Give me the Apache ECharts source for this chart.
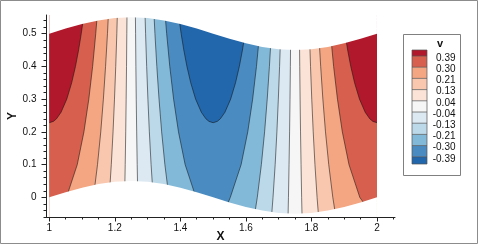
<!DOCTYPE html>
<html><head><meta charset="utf-8">
<script src="https://cdn.jsdelivr.net/npm/echarts@6/dist/echarts.min.js"></script>
<style>html,body{margin:0;padding:0;background:#fff}#c{width:479px;height:245px}</style>
</head><body><div id="c"></div>
<script>
// ---- axis ticks ----
const xMajor = [1, 1.2, 1.4, 1.6, 1.8, 2];
const xMinor = [1.05,1.1,1.15,1.25,1.3,1.35,1.45,1.5,1.55,1.65,1.7,1.75,1.85,1.9,1.95,2.05];
const yMajor = [0, 0.1, 0.2, 0.3, 0.4, 0.5];
const yMinor = [-0.06,-0.04,-0.02,0.02,0.04,0.06,0.08,0.12,0.14,0.16,0.18,0.22,0.24,0.26,0.28,0.32,0.34,0.36,0.38,0.42,0.44,0.46,0.48,0.52,0.54];

// ---- legend ----
const levelLabels = ['0.39','0.30','0.21','0.13','0.04','-0.04','-0.13','-0.21','-0.30','-0.39'];
const bandColors = ['#b2182b','#d6604d','#f4a582','#f9c7ae','#fbe4d7','#f6f6f6','#dce9f2','#bcd9ea','#82b9d9','#4a8cc2','#2266ac'];

// ---- channel walls ----
const wallX   = [1.00,1.05,1.10,1.15,1.20,1.25,1.30,1.35,1.40,1.45,1.50,1.55,1.60,1.65,1.70,1.75,1.80,1.85,1.90,1.95,2.00];
const bottomY = [0,0.0155,0.0294,0.0405,0.0476,0.05,0.0476,0.0405,0.0294,0.0155,0,-0.0155,-0.0294,-0.0405,-0.0476,-0.05,-0.0476,-0.0405,-0.0294,-0.0155,0];
const topY    = [0.5,0.5155,0.5294,0.5405,0.5476,0.55,0.5476,0.5405,0.5294,0.5155,0.5,0.4845,0.4706,0.4595,0.4524,0.45,0.4524,0.4595,0.4706,0.4845,0.5];

// ---- contour lines: x position at each y row ----
const rowY = [-0.06, 0, 0.1, 0.2, 0.3, 0.4, 0.5, 0.56];
const c04L = [1.2286,1.2299,1.2317,1.2333,1.2346,1.2357,1.2366,1.2372];
const c04R = [1.7714,1.7701,1.7683,1.7667,1.7654,1.7643,1.7634,1.7628];
const m04L = [1.2714,1.2701,1.2683,1.2667,1.2654,1.2643,1.2634,1.2628];
const m04R = [1.7286,1.7299,1.7317,1.7333,1.7346,1.7357,1.7366,1.7372];
const c13L = [1.1781,1.1828,1.1893,1.1946,1.1990,1.2028,1.2061,1.2078];
const c13R = [1.8219,1.8172,1.8107,1.8054,1.8010,1.7972,1.7939,1.7922];
const m13L = [1.3219,1.3172,1.3107,1.3054,1.3010,1.2972,1.2939,1.2922];
const m13R = [1.6781,1.6828,1.6893,1.6946,1.6990,1.7028,1.7061,1.7078];
const c21L = [1.1254,1.1348,1.1472,1.1571,1.1651,1.1718,1.1776,1.1805];
const c21R = [1.8746,1.8652,1.8528,1.8429,1.8349,1.8282,1.8224,1.8195];
const m21L = [1.3746,1.3652,1.3528,1.3429,1.3349,1.3282,1.3224,1.3195];
const m21R = [1.6254,1.6348,1.6472,1.6571,1.6651,1.6718,1.6776,1.6805];
const c30L = [1.0100,1.0524,1.0854,1.1057,1.1206,1.1323,1.1418,1.1467];
const c30R = [1.9900,1.9476,1.9146,1.8943,1.8794,1.8677,1.8582,1.8533];
const m30L = [1.4720,1.4476,1.4146,1.3943,1.3794,1.3677,1.3582,1.3533];
const m30R = [1.5280,1.5524,1.5854,1.6057,1.6206,1.6323,1.6418,1.6467];
// curved contours (+/-0.39)
const c39Y = [0.228,0.232,0.24,0.26,0.3,0.35,0.4,0.45,0.5,0.56];
const c39L = [1.0,1.0125,1.0221,1.0360,1.0534,1.0684,1.0800,1.0895,1.0976,1.1061];
const c39R = [2.0,1.9875,1.9779,1.9640,1.9466,1.9316,1.9200,1.9105,1.9024,1.8939];
const m39L = [1.5,1.4875,1.4779,1.4640,1.4466,1.4316,1.4200,1.4105,1.4024,1.3939];
const m39R = [1.5,1.5125,1.5221,1.5360,1.5534,1.5684,1.5800,1.5895,1.5976,1.6061];

const Y_LO = -0.07, Y_HI = 0.6;
function pts(xs, ys){ return xs.map((x,i)=>[x, ys[i]]); }

const bands = [];
bands.push({p:[[1,Y_LO],[2,Y_LO],[2,Y_HI],[1,Y_HI]], c:bandColors[5]});
[[c04L,c04R,4],[c13L,c13R,3],[c21L,c21R,2],[c30L,c30R,1]].forEach(([L,R,k])=>{
  bands.push({p:pts(L,rowY).concat([[1,Y_HI],[1,Y_LO]]), c:bandColors[k]});
  bands.push({p:pts(R,rowY).concat([[2,Y_HI],[2,Y_LO]]), c:bandColors[k]});
});
bands.push({p:pts(c39L,c39Y).concat([[1,Y_HI]]), c:bandColors[0]});
bands.push({p:pts(c39R,c39Y).concat([[2,Y_HI]]), c:bandColors[0]});
[[m04L,m04R,6],[m13L,m13R,7],[m21L,m21R,8],[m30L,m30R,9]].forEach(([L,R,k])=>{
  bands.push({p:pts(L,rowY).concat(pts(R,rowY).reverse()), c:bandColors[k]});
});
bands.push({p:pts(m39L,c39Y).reverse().concat(pts(m39R,c39Y)), c:bandColors[10]});

const lines = [c04L,c04R,m04L,m04R,c13L,c13R,m13L,m13R,c21L,c21R,m21L,m21R,c30L,c30R,m30L,m30R]
  .map(L=>pts(L,rowY))
  .concat([pts(c39L,c39Y), pts(c39R,c39Y), pts(m39L,c39Y).reverse().concat(pts(m39R,c39Y))]);

const masks = [
  pts(wallX, topY).concat([[2,Y_HI],[1,Y_HI]]),
  pts(wallX, bottomY).concat([[2,Y_LO],[1,Y_LO]])
];

const FONT = '"Liberation Sans", Arial, Helvetica, sans-serif';
const chart = echarts.init(document.getElementById('c'), null, {renderer:'canvas'});

function customSeries(list, z, kind){
  return {
    type:'custom', coordinateSystem:'cartesian2d', xAxisIndex:0, yAxisIndex:0,
    clip:true, silent:true, z:z, animation:false,
    data: list.map(()=>[1.5,0.25]),
    renderItem:(params, api)=>{
      const item = list[params.dataIndex];
      if (kind==='band') return {type:'polygon', shape:{points:item.p.map(q=>api.coord(q))}, style:{fill:item.c}};
      if (kind==='mask') return {type:'polygon', shape:{points:item.map(q=>api.coord(q))}, style:{fill:'#ffffff'}};
      return {type:'polyline', shape:{points:item.map(q=>api.coord(q))}, style:{stroke:'rgba(20,20,20,0.8)', lineWidth:0.7, fill:null}};
    }
  };
}

// legend graphics
const LX = 412, LW = 15, LTOP = 50, LB0 = 56, LSTEP = 11.2, LBOT = 164;
const g = [];
g.push({type:'rect', shape:{x:0.5,y:0.5,width:477,height:243}, style:{fill:null, stroke:'#8c8c8c', lineWidth:1}, z:1});
g.push({type:'rect', shape:{x:403.5,y:34.5,width:57,height:141}, style:{fill:'#fff', stroke:'#808080', lineWidth:1}, z:1});
g.push({type:'text', x:440, y:44, style:{text:'v', font:'bold 11px '+FONT, fill:'#111', align:'center', verticalAlign:'middle'}, z:2});
for (let k=0;k<11;k++){
  const y0 = k===0 ? LTOP : LB0 + (k-1)*LSTEP;
  const y1 = k===10 ? LBOT : LB0 + k*LSTEP;
  g.push({type:'rect', shape:{x:LX,y:y0,width:LW,height:y1-y0}, style:{fill:bandColors[k]}, z:2});
}
for (let k=0;k<10;k++){
  const yb = LB0 + k*LSTEP;
  g.push({type:'line', shape:{x1:LX,y1:yb,x2:LX+LW,y2:yb}, style:{stroke:'#555', lineWidth:0.7}, z:3});
  g.push({type:'text', x:455.5, y:yb+2, style:{text:levelLabels[k], font:'10px '+FONT, fill:'#111', align:'right', verticalAlign:'middle'}, z:3});
}
g.push({type:'rect', shape:{x:LX,y:LTOP,width:LW,height:LBOT-LTOP}, style:{fill:null, stroke:'#555', lineWidth:0.7}, z:3});

const axisCommon = {type:'value', z:10, splitLine:{show:false}};
chart.setOption({
  animation:false,
  grid:{left:46, top:15, width:349, height:202, containLabel:false, outerBoundsMode:'none'},
  xAxis:[
    Object.assign({}, axisCommon, {min:0.99, max:2.055, position:'bottom',
      axisLine:{show:true, onZero:false, lineStyle:{color:'#222', width:1}},
      axisTick:{show:true, customValues:xMajor, length:4.5, lineStyle:{color:'#222', width:1}},
      axisLabel:{show:true, customValues:xMajor, fontSize:10, fontFamily:FONT, color:'#111', margin:6},
      name:'X', nameLocation:'middle', nameGap:14, nameMoveOverlap:false,
      nameTextStyle:{fontWeight:'bold', fontSize:12, fontFamily:FONT, color:'#111'}}),
    Object.assign({}, axisCommon, {min:0.99, max:2.055, position:'bottom',
      axisLine:{show:false, onZero:false},
      axisTick:{show:true, customValues:xMinor, length:2.5, lineStyle:{color:'#222', width:1}},
      axisLabel:{show:false}})
  ],
  yAxis:[
    Object.assign({}, axisCommon, {min:-0.06, max:0.557, position:'left',
      axisLine:{show:true, onZero:false, lineStyle:{color:'#222', width:1}},
      axisTick:{show:true, customValues:yMajor, length:4.5, lineStyle:{color:'#222', width:1}},
      axisLabel:{show:true, customValues:yMajor, fontSize:10, fontFamily:FONT, color:'#111', margin:9.5},
      name:'Y', nameLocation:'middle', nameGap:27, nameRotate:90, nameMoveOverlap:false,
      nameTextStyle:{fontWeight:'bold', fontSize:12, fontFamily:FONT, color:'#111'}}),
    Object.assign({}, axisCommon, {min:-0.06, max:0.557, position:'left',
      axisLine:{show:false, onZero:false},
      axisTick:{show:true, customValues:yMinor, length:2.5, lineStyle:{color:'#222', width:1}},
      axisLabel:{show:false}})
  ],
  graphic:g,
  series:[
    customSeries(bands, 2, 'band'),
    customSeries(lines, 3, 'line'),
    customSeries(masks, 4, 'mask')
  ]
});
</script></body></html>
